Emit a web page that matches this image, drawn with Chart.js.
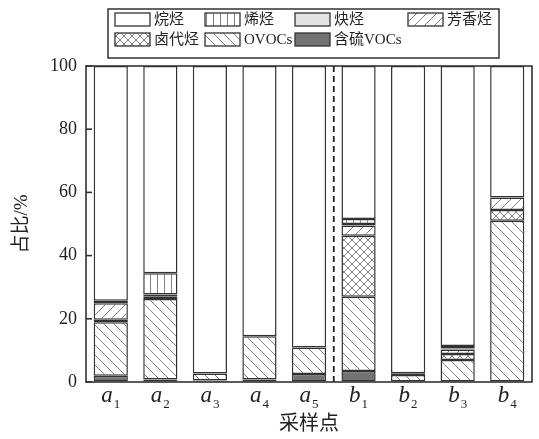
<!DOCTYPE html>
<html>
<head>
<meta charset="utf-8">
<script src="https://cdn.jsdelivr.net/npm/chart.js@4/dist/chart.umd.min.js"></script>
<style>
  body { margin: 0; background: #fff; }
  #wrap { width: 539px; height: 439px; }
</style>
</head>
<body>
<div id="wrap"><canvas id="grafico" width="539" height="439"></canvas></div>
<script>
// 采样点
const sitios = ['a1', 'a2', 'a3', 'a4', 'a5', 'b1', 'b2', 'b3', 'b4'];
// 各类VOCs占比 (%)
const hanliu  = [2.0, 0.8, 0.5, 0.8, 2.5, 3.5, 0.0, 0.0, 0.0];      // 含硫VOCs
const ovocs   = [16.9, 25.5, 2.2, 13.7, 8.4, 23.5, 2.2, 7.0, 51.0]; // OVOCs
const ludai   = [0.8, 0.3, 0.0, 0.0, 0.0, 19.3, 0.0, 1.9, 3.4];     // 卤代烃
const fangx   = [5.2, 0.5, 0.0, 0.0, 0.0, 3.2, 0.3, 1.4, 4.0];      // 芳香烃
const quet    = [0.4, 0.6, 0.0, 0.0, 0.0, 0.5, 0.3, 0.3, 0.0];      // 炔烃
const xit     = [0.4, 6.7, 0.0, 0.0, 0.0, 1.6, 0.0, 0.8, 0.0];      // 烯烃
const wanting = [74.3, 65.6, 97.3, 85.5, 89.1, 48.4, 97.2, 88.6, 41.6]; // 烷烃
const yTicks = [0, 20, 40, 60, 80, 100];

const serif = "'Liberation Serif', 'Noto Sans CJK SC', serif";
const borde = '#333333';

function patron(tipo) {
    const s = tipo === 'vert' ? 7 : (tipo === 'cross' ? 8 : 10);
    const c = document.createElement('canvas');
    c.width = s; c.height = s;
    const g = c.getContext('2d');
    g.fillStyle = '#fff';
    g.fillRect(0, 0, s, s);
    g.strokeStyle = '#808080';
    g.lineWidth = 1;
    g.beginPath();
    if (tipo === 'vert') {
        g.moveTo(3.5, 0); g.lineTo(3.5, s);
    }
    if (tipo === 'slash' || tipo === 'cross') {
        g.moveTo(0, s); g.lineTo(s, 0);
        g.moveTo(-1, 1); g.lineTo(1, -1);
        g.moveTo(s - 1, s + 1); g.lineTo(s + 1, s - 1);
    }
    if (tipo === 'back' || tipo === 'cross') {
        g.moveTo(0, 0); g.lineTo(s, s);
        g.moveTo(-1, s - 1); g.lineTo(1, s + 1);
        g.moveTo(s - 1, -1); g.lineTo(s + 1, 1);
    }
    g.stroke();
    return g.createPattern(c, 'repeat');
}

const ctx = document.getElementById('grafico').getContext('2d');

function serie(label, data, fill) {
    return {
        label: label,
        data: data,
        backgroundColor: fill,
        borderColor: borde,
        borderWidth: 1.5,
        borderSkipped: false,
        barPercentage: 0.69,
        categoryPercentage: 1.0
    };
}

const datasets = [
    serie('含硫VOCs', hanliu, '#737373'),
    serie('OVOCs', ovocs, patron('back')),
    serie('卤代烃', ludai, patron('cross')),
    serie('芳香烃', fangx, patron('slash')),
    serie('炔烃', quet, '#e3e3e3'),
    serie('烯烃', xit, patron('vert')),
    serie('烷烃', wanting, '#ffffff')
];

// leyenda, orden del original
const ordenLeyenda = [
    ['烷烃', 115, 13], ['烯烃', 205, 13], ['炔烃', 295, 13], ['芳香烃', 408, 13],
    ['卤代烃', 115, 33], ['OVOCs', 205, 33], ['含硫VOCs', 295, 33]
];

const extras = {
    id: 'extras',
    afterDraw(chart) {
        const c = chart.ctx;
        const area = chart.chartArea;
        const xs = chart.scales.x;
        const ys = chart.scales.y;
        c.save();
        // marco
        c.strokeStyle = borde;
        c.lineWidth = 1.6;
        c.strokeRect(area.left, area.top, area.right - area.left, area.bottom - area.top);
        // ticks hacia dentro
        yTicks.forEach(v => {
            const y = ys.getPixelForValue(v);
            c.beginPath();
            c.moveTo(area.left, y);
            c.lineTo(area.left + 6, y);
            c.stroke();
        });
        // linea discontinua entre a5 y b1
        const xd = (xs.getPixelForValue(4) + xs.getPixelForValue(5)) / 2;
        c.setLineDash([6, 4]);
        c.lineWidth = 1.8;
        c.strokeStyle = '#222';
        c.beginPath();
        c.moveTo(xd, area.top);
        c.lineTo(xd, area.bottom);
        c.stroke();
        c.setLineDash([]);
        // etiquetas x con subindice
        c.fillStyle = '#222';
        c.textBaseline = 'alphabetic';
        sitios.forEach((s, i) => {
            const x = xs.getPixelForValue(i);
            const letra = s[0], sub = s.slice(1);
            c.font = 'italic 23px ' + serif;
            const w1 = c.measureText(letra).width;
            c.font = '13px ' + serif;
            const w2 = c.measureText(sub).width;
            const x0 = x - (w1 + w2 + 1) / 2;
            c.font = 'italic 23px ' + serif;
            c.textAlign = 'left';
            c.fillText(letra, x0, 402);
            c.font = '13px ' + serif;
            c.fillText(sub, x0 + w1 + 1, 408);
        });
        // leyenda
        c.lineWidth = 1.5;
        c.strokeStyle = borde;
        c.strokeRect(108, 9, 391, 49);
        c.font = '15px ' + serif;
        c.textBaseline = 'middle';
        ordenLeyenda.forEach(([nombre, lx, ly]) => {
            const ds = chart.data.datasets.find(d => d.label === nombre);
            c.fillStyle = ds.backgroundColor;
            c.fillRect(lx, ly, 35, 13);
            c.lineWidth = 1.3;
            c.strokeRect(lx, ly, 35, 13);
            c.fillStyle = '#222';
            c.fillText(nombre, lx + 39, ly + 7);
        });
        c.restore();
    }
};

new Chart(ctx, {
    type: 'bar',
    data: { labels: sitios, datasets: datasets },
    options: {
        responsive: false,
        animation: false,
        layout: { padding: { top: 66, right: 7, left: 0, bottom: 0 } },
        plugins: { legend: { display: false }, tooltip: { enabled: false } },
        scales: {
            x: {
                stacked: true,
                grid: { display: false },
                border: { display: false },
                ticks: { display: false },
                title: {
                    display: true,
                    text: '采样点',
                    color: '#222',
                    font: { family: serif, size: 20 },
                    padding: { top: 0, bottom: 2 }
                },
                afterFit: (scale) => { scale.height = 57; }
            },
            y: {
                stacked: true,
                min: 0,
                max: 100,
                grid: { drawOnChartArea: false, drawTicks: false },
                border: { display: false },
                afterBuildTicks: (scale) => { scale.ticks = yTicks.map(v => ({ value: v })); },
                ticks: {
                    padding: 9,
                    color: '#222',
                    font: { family: serif, size: 18 }
                },
                title: {
                    display: true,
                    text: '占比/%',
                    color: '#222',
                    font: { family: serif, size: 19 },
                    padding: { top: 11, bottom: 0 }
                },
                afterFit: (scale) => { scale.width = 86; }
            }
        }
    },
    plugins: [extras]
});
</script>
</body>
</html>
